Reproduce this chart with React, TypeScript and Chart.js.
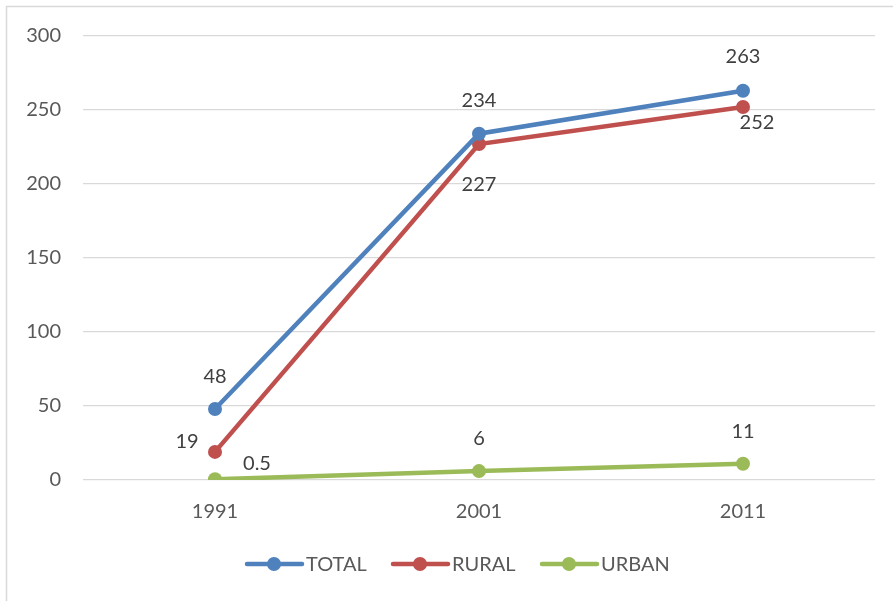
import React, { useEffect, useRef } from "react";
import { Chart, registerables } from "chart.js";

Chart.register(...registerables);

const categories = ["1991", "2001", "2011"];
const totalValues = [48, 234, 263];
const ruralValues = [19, 227, 252];
const urbanValues = [0.5, 6, 11];
const seriesNames = ["TOTAL", "RURAL", "URBAN"];
const seriesColors = ["#4F81BD", "#C0504D", "#9BBB59"];
const yTicks = [0, 50, 100, 150, 200, 250, 300];

// label offsets per series per point (dx, dy from point)
const labelOffsets = [
  [[0, -32], [0, -33], [0, -34]],
  [[-28, -10], [0, 41], [14, 16]],
  [[42, -16], [0, -33], [0, -32]],
];

const FONT = "Lato, 'Open Sans', sans-serif";

export default function App() {
  const ref = useRef<HTMLCanvasElement | null>(null);
  useEffect(() => {
    document.body.style.margin = "0";
    const ctx = ref.current!;
    const plugin = {
      id: "extras",
      beforeDraw(chart: any) {
        const c = chart.ctx;
        c.save();
        c.fillStyle = "#ffffff";
        c.fillRect(0, 0, chart.width, chart.height);
        c.strokeStyle = "#d9d9d9";
        c.lineWidth = 1.5;
        c.strokeRect(6.5, 6.5, 2000, 2000);
        c.restore();
      },
      afterDatasetsDraw(chart: any) {
        const c = chart.ctx;
        c.save();
        c.font = "20px " + FONT;
        c.fillStyle = "#404040";
        c.textAlign = "center";
        c.textBaseline = "middle";
        chart.data.datasets.forEach((ds: any, i: number) => {
          const meta = chart.getDatasetMeta(i);
          meta.data.forEach((pt: any, j: number) => {
            const [dx, dy] = labelOffsets[i][j];
            c.fillText(String(ds.data[j]), pt.x + dx, pt.y + dy);
          });
        });
        // legend
        const ly = 564;
        const starts = [247, 393, 542];
        c.textAlign = "left";
        c.fillStyle = "#595959";
        seriesNames.forEach((name, i) => {
          const x = starts[i];
          c.strokeStyle = seriesColors[i];
          c.lineWidth = 4.5;
          c.lineCap = "round";
          c.beginPath();
          c.moveTo(x, ly);
          c.lineTo(x + 55, ly);
          c.stroke();
          c.fillStyle = seriesColors[i];
          c.beginPath();
          c.arc(x + 27, ly, 7, 0, Math.PI * 2);
          c.fill();
          c.fillStyle = "#595959";
          c.fillText(name, x + 59, ly + 1);
        });
        c.restore();
      },
    };
    const chart = new Chart(ctx, {
      type: "line",
      data: {
        labels: categories,
        datasets: [totalValues, ruralValues, urbanValues].map((d, i) => ({
          label: seriesNames[i],
          data: d,
          borderColor: seriesColors[i],
          backgroundColor: seriesColors[i],
          pointBackgroundColor: seriesColors[i],
          pointBorderColor: seriesColors[i],
          borderWidth: 4.5,
          pointRadius: 7,
          pointBorderWidth: 0,
          tension: 0,
          fill: false,
        })),
      },
      options: {
        animation: false,
        responsive: false,
        devicePixelRatio: 1,
        layout: { padding: { left: 0, right: 18, top: 36, bottom: 0 } },
        plugins: { legend: { display: false }, tooltip: { enabled: false } },
        scales: {
          x: {
            offset: true,
            grid: { display: false, drawTicks: false },
            border: { display: false },
            ticks: { color: "#595959", font: { size: 20, family: FONT }, padding: 20 },
            afterFit(scale: any) {
              scale.height = 121;
            },
          },
          y: {
            min: 0,
            max: 300,
            afterBuildTicks(scale: any) {
              scale.ticks = yTicks.map((v) => ({ value: v }));
            },
            grid: { color: "#d9d9d9", lineWidth: 1.3, drawTicks: false },
            border: { display: false },
            ticks: { color: "#595959", font: { size: 20, family: FONT }, padding: 22 },
            afterFit(scale: any) {
              scale.width = 83;
            },
          },
        },
      },
      plugins: [plugin],
    });
    return () => chart.destroy();
  }, []);
  return (
    <div style={{ position: "absolute", left: 0, top: 0, width: 893, height: 601, overflow: "hidden" }}>
      <canvas ref={ref} width={893} height={601} style={{ display: "block" }} />
    </div>
  );
}
